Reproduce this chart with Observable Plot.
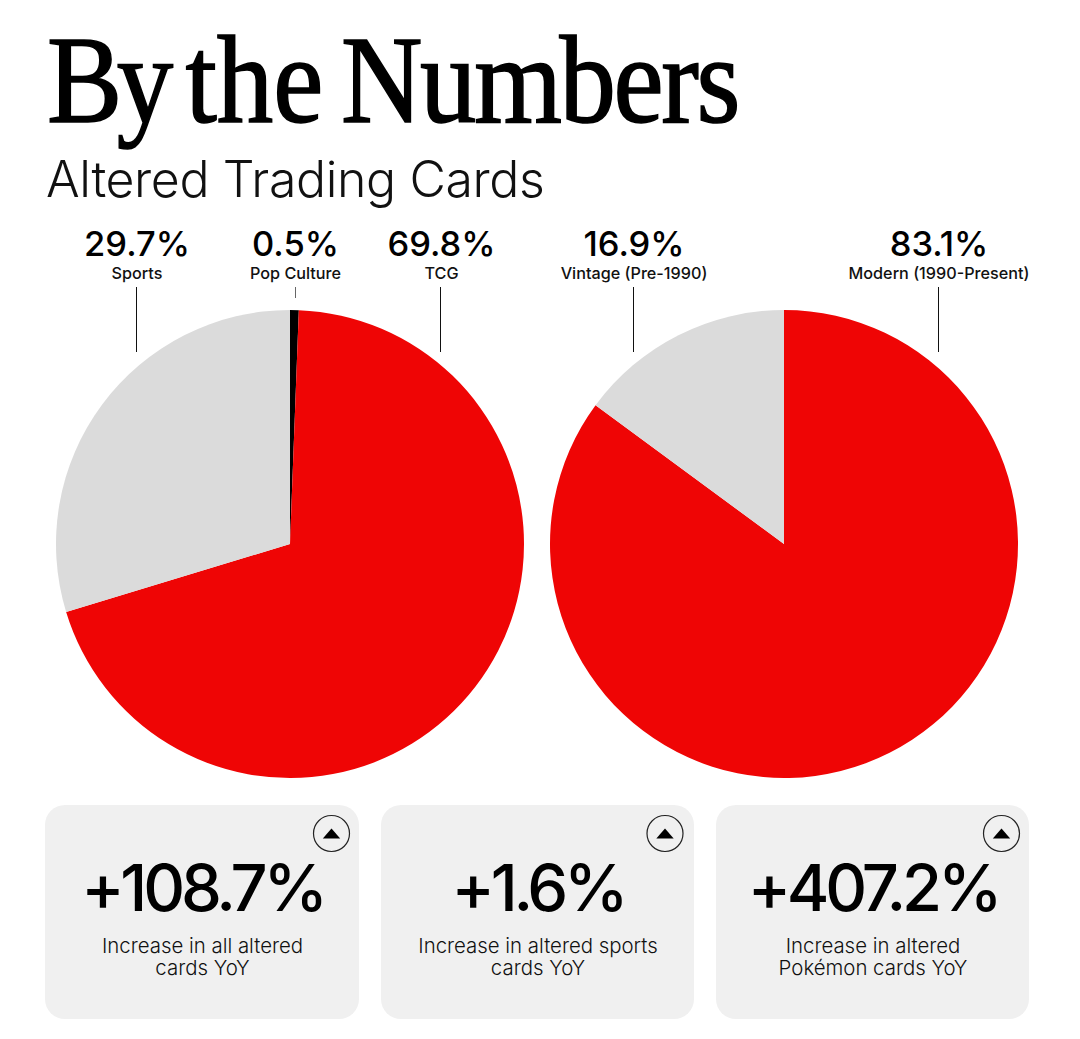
<!DOCTYPE html>
<html>
<head>
<meta charset="utf-8">
<script src="https://cdn.jsdelivr.net/npm/d3@7"></script>
<script src="https://cdn.jsdelivr.net/npm/@observablehq/plot@0.6"></script>
<style>
html,body{margin:0;padding:0;background:#fff}
body{width:1080px;height:1039px;position:relative;overflow:hidden}
h1{position:absolute;left:47px;top:13px;margin:0;font:400 124px/1.1 "Liberation Serif",serif;color:#000;letter-spacing:-2.6px;word-spacing:-9px;transform:scaleX(.91);transform-origin:left top;white-space:nowrap;-webkit-text-stroke:1.6px #000}
h1 .the{letter-spacing:0}
h1 .by{letter-spacing:-6px}
h2{position:absolute;left:46px;top:149px;margin:0;font:350 50px/1.2 Inter,sans-serif;color:#111;letter-spacing:-.4px;white-space:nowrap}
#chart{position:absolute;left:0;top:225px}
svg{display:block}
.bignum text{letter-spacing:-4.2px}
</style>
</head>
<body>
<h1><span class="by">By</span> <span class="the">the</span> Numbers</h1>
<h2>Altered Trading Cards</h2>
<div id="chart"></div>
<script>
// Category pie, clockwise from 12 o'clock
const categoryNames = ["Pop Culture", "TCG", "Sports"];
const categoryLabels = [0.5, 69.8, 29.7];
const categoryDrawn = [0.6, 69.7, 29.7];
const categoryColors = ["#000000", "#EF0505", "#DBDBDB"];
// Era pie: the picture draws its grey wedge narrower than its label says
const eraNames = ["Modern (1990-Present)", "Vintage (Pre-1990)"];
const eraLabels = [83.1, 16.9];
const eraDrawn = [85.1, 14.9];
const eraColors = ["#EF0505", "#DBDBDB"];
// Year-over-year cards
const cardValues = ["+108.7%", "+1.6%", "+407.2%"];
const cardLine1 = ["Increase in all altered", "Increase in altered sports", "Increase in altered"];
const cardLine2 = ["cards YoY", "cards YoY", "Pokémon cards YoY"];

// Layout, in page pixels
const R = 234, CY = 544;
const pies = [
  {cx: 290, drawn: categoryDrawn, colors: categoryColors},
  {cx: 784, drawn: eraDrawn, colors: eraColors}
];
const callouts = [
  {name: categoryNames[2], v: categoryLabels[2], x: 136, tx: 136.5, y2: 352},
  {name: categoryNames[0], v: categoryLabels[0], x: 295, tx: 295, y2: 298, thin: true},
  {name: categoryNames[1], v: categoryLabels[1], x: 440, tx: 441, y2: 352},
  {name: eraNames[1], v: eraLabels[1], x: 633, tx: 633.5, y2: 352},
  {name: eraNames[0], v: eraLabels[0], x: 938, tx: 938.5, y2: 352}
].map(d => ({...d, label: d.v.toFixed(1) + "%"}));
const cards = cardValues.map((v, i) => ({
  value: v, caption: cardLine1[i] + "\n" + cardLine2[i],
  x1: [45, 381, 716][i], x2: [359, 694, 1029][i], ix: [331, 664.5, 1001][i]
}));
cards.forEach(c => c.xc = (c.x1 + c.x2) / 2);

const flatTriangle = {draw(ctx, size) {
  const w = 8.7, h = 10;
  ctx.moveTo(0, -h / 2); ctx.lineTo(w, h / 2); ctx.lineTo(-w, h / 2); ctx.closePath();
}};

function pieMark(pie) {
  return (index, {x, y}) => {
    const g = d3.create("svg:g").attr("transform", `translate(${x(pie.cx)},${y(CY)})`);
    const arcs = d3.pie().sort(null)(pie.drawn);
    const arc = d3.arc().innerRadius(0).outerRadius(x(R) - x(0));
    g.selectAll("path").data(arcs).join("path")
      .attr("d", arc).attr("fill", (d, i) => pie.colors[i]);
    return g.node();
  };
}

const FONT = "Inter, sans-serif";
const plot = Plot.plot({
  width: 1080, height: 814, margin: 0,
  x: {domain: [0, 1080], range: [0, 1080], axis: null},
  y: {domain: [225, 1039], range: [0, 814], axis: null},
  style: {background: "transparent", overflow: "visible"},
  marks: [
    ...pies.map(pieMark),
    Plot.ruleX(callouts, {x: "x", y1: 287, y2: "y2", stroke: d => d.thin ? "#666" : "#111", strokeWidth: 1}),
    Plot.text(callouts, {x: "tx", y: 244, text: "label", fontFamily: FONT, fontWeight: 500, fontSize: 34.5, fill: "#000", textAnchor: "middle", lineAnchor: "middle"}),
    Plot.text(callouts, {x: "tx", y: 273, text: "name", fontFamily: FONT, fontWeight: 500, fontSize: 16.2, fill: "#111", textAnchor: "middle", lineAnchor: "middle"}),
    Plot.rect(cards, {x1: "x1", x2: "x2", y1: 805, y2: 1019, fill: "#F0F0F0", rx: 20, ry: 20}),
    Plot.dot(cards, {x: "ix", y: 833, r: 18, stroke: "#222", strokeWidth: 1.2, fill: "none"}),
    Plot.dot(cards, {x: "ix", y: 833, symbol: flatTriangle, r: 5, fill: "#000", stroke: "none"}),
    Plot.text(cards, {x: "xc", y: 890, text: "value", className: "bignum", fontFamily: FONT, fontWeight: 500, fontSize: 65, fill: "#000", textAnchor: "middle", lineAnchor: "middle"}),
    Plot.text(cards, {x: "xc", y: 956.5, text: "caption", fontFamily: FONT, fontWeight: 350, fontSize: 20.4, lineHeight: 1.08, fill: "#111", textAnchor: "middle", lineAnchor: "middle"})
  ]
});
document.getElementById("chart").appendChild(plot);
</script>
</body>
</html>
